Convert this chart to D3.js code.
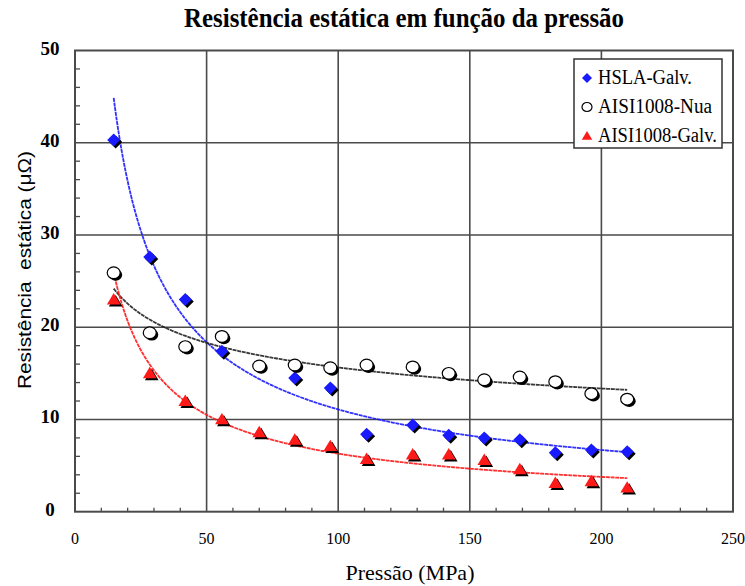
<!DOCTYPE html>
<html>
<head>
<meta charset="utf-8">
<script src="https://cdn.jsdelivr.net/npm/d3@7"></script>
<style>
  html, body { margin: 0; padding: 0; background: #fff; }
  svg { display: block; }
</style>
</head>
<body>
<svg id="chart" width="745" height="586"></svg>
<script>
// Pressure (MPa) at which each contact resistance was measured
const pressao = [14.7, 28.4, 41.9, 55.8, 70.0, 83.5, 97.0, 110.8, 128.3, 142.0, 155.5, 169.0, 182.5, 196.2, 209.8];
// Static resistance (µΩ) per material; null = no measurement
const hslaGalv     = [40.3, 27.6, 23.0, 17.4, null, 14.5, 13.4, 8.4, 9.4, 8.3, 8.0, 7.8, 6.4, 6.7, 6.5];
const aisi1008Nua  = [25.9, 19.4, 17.9, 19.0, 15.8, 15.9, 15.6, 15.9, 15.7, 15.0, 14.3, 14.6, 14.1, 12.8, 12.2];
const aisi1008Galv = [23.0, 15.0, 12.0, 10.0, 8.6, 7.8, 7.1, 5.7, 6.2, 6.2, 5.6, 4.6, 3.1, 3.3, 2.6];

const seriesNames = ["HSLA-Galv.", "AISI1008-Nua", "AISI1008-Galv."];
const xTicks = [0, 50, 100, 150, 200, 250];
const yTicks = [0, 10, 20, 30, 40, 50];

const titulo = "Resistência estática em função da pressão";
const xTitulo = "Pressão (MPa)";
const yTitulo = "Resistência  estática (μΩ)";

const series = [
  { name: seriesNames[0], values: hslaGalv,     color: "#1a1aff", shape: "diamond" },
  { name: seriesNames[1], values: aisi1008Nua,  color: "#000000", shape: "circle" },
  { name: seriesNames[2], values: aisi1008Galv, color: "#ff1a1a", shape: "triangle" }
];

const svg = d3.select("#chart");
const plotLeft = 75, plotRight = 733, plotTop = 50.5, plotBottom = 511.7;

const x = d3.scaleLinear().domain([0, 250]).range([plotLeft, plotRight]);
const y = d3.scaleLinear().domain([0, 50]).range([plotBottom, plotTop]);

const serif = "'Liberation Serif', 'Times New Roman', serif";
const sans = "'Liberation Sans', Arial, sans-serif";
const gridColor = "#4a4a4a";

// Title, centred over the plot area
svg.append("text")
  .attr("x", (plotLeft + plotRight) / 2).attr("y", 27)
  .attr("text-anchor", "middle")
  .attr("textLength", 440).attr("lengthAdjust", "spacingAndGlyphs")
  .attr("font-family", serif).attr("font-weight", "bold").attr("font-size", 28)
  .attr("fill", "#000")
  .text(titulo);

// Grid lines (major ticks)
const g = svg.append("g");
g.selectAll("line.vgrid").data(xTicks.slice(1, -1)).join("line")
  .attr("x1", d => x(d)).attr("x2", d => x(d))
  .attr("y1", plotTop).attr("y2", plotBottom)
  .attr("stroke", gridColor).attr("stroke-width", 1.6);
g.selectAll("line.hgrid").data(yTicks.slice(1, -1)).join("line")
  .attr("x1", plotLeft).attr("x2", plotRight)
  .attr("y1", d => y(d)).attr("y2", d => y(d))
  .attr("stroke", gridColor).attr("stroke-width", 1.6);

// Minor ticks, drawn inward from the bottom and left axes
const xMinor = d3.range(10, 250, 10).filter(v => v % 50 !== 0);
const yMinor = d3.range(2, 50, 2).filter(v => v % 10 !== 0);
g.selectAll("line.xminor").data(xMinor).join("line")
  .attr("x1", d => x(d)).attr("x2", d => x(d))
  .attr("y1", plotBottom).attr("y2", plotBottom - 4)
  .attr("stroke", gridColor).attr("stroke-width", 1.3);
g.selectAll("line.yminor").data(yMinor).join("line")
  .attr("x1", plotLeft).attr("x2", plotLeft + 5)
  .attr("y1", d => y(d)).attr("y2", d => y(d))
  .attr("stroke", gridColor).attr("stroke-width", 1.3);

// Plot frame
svg.append("rect")
  .attr("x", plotLeft).attr("y", plotTop)
  .attr("width", plotRight - plotLeft).attr("height", plotBottom - plotTop)
  .attr("fill", "none").attr("stroke", gridColor).attr("stroke-width", 2);

// Tick labels
svg.selectAll("text.xt").data(xTicks).join("text")
  .attr("x", d => x(d)).attr("y", 544)
  .attr("text-anchor", "middle")
  .attr("font-family", serif).attr("font-size", 16).attr("fill", "#000")
  .text(d => d);
svg.selectAll("text.yt").data(yTicks).join("text")
  .attr("x", 50).attr("y", d => y(d) + 4)
  .attr("text-anchor", "middle")
  .attr("font-family", serif).attr("font-weight", "bold").attr("font-size", 19).attr("fill", "#000")
  .text(d => d);

// Axis titles
svg.append("text")
  .attr("x", 410).attr("y", 580)
  .attr("text-anchor", "middle")
  .attr("font-family", serif).attr("font-size", 22).attr("fill", "#000")
  .text(xTitulo);
svg.append("text")
  .attr("transform", "translate(31,270) rotate(-90)")
  .attr("text-anchor", "middle")
  .attr("textLength", 238).attr("lengthAdjust", "spacingAndGlyphs")
  .style("white-space", "pre")
  .attr("font-family", sans).attr("font-size", 19).attr("fill", "#000")
  .text(yTitulo);

// Power-law trend line (least squares in log-log space) for each series
function powerFit(xs, ys) {
  const pts = xs.map((v, i) => [v, ys[i]]).filter(p => p[1] != null);
  const lx = pts.map(p => Math.log(p[0])), ly = pts.map(p => Math.log(p[1]));
  const mx = d3.mean(lx), my = d3.mean(ly);
  const b = d3.sum(lx, (v, i) => (v - mx) * (ly[i] - my)) / d3.sum(lx, v => (v - mx) * (v - mx));
  const a = Math.exp(my - b * mx);
  return { a, b, x0: d3.min(pts, p => p[0]), x1: d3.max(pts, p => p[0]) };
}

const line = d3.line().x(d => x(d[0])).y(d => y(d[1]));
const curves = svg.append("g");
series.forEach(s => {
  const f = powerFit(pressao, s.values);
  const xs = d3.range(f.x0, f.x1, 0.5).concat([f.x1]);
  curves.append("path")
    .datum(xs.map(v => [v, f.a * Math.pow(v, f.b)]))
    .attr("d", line)
    .attr("fill", "none")
    .attr("stroke", s.color === "#000000" ? "#222" : s.color)
    .attr("stroke-width", 1.8)
    .attr("stroke-dasharray", "4,0.7")
    .attr("opacity", 0.9);
});

// Marker shapes
function markerPath(shape, r) {
  if (shape === "diamond") return `M0,${-r}L${r},0L0,${r}L${-r},0Z`;
  if (shape === "triangle") return `M0,${-r}L${r * 1.05},${r * 0.75}L${-r * 1.05},${r * 0.75}Z`;
  return null;
}

function drawMarker(sel, s, cx, cy, withShadow, r) {
  if (s.shape === "circle") {
    if (withShadow) {
      sel.append("ellipse").attr("cx", cx + 2).attr("cy", cy + 2)
        .attr("rx", r).attr("ry", r * 0.9).attr("fill", "#000");
    }
    sel.append("ellipse").attr("cx", cx).attr("cy", cy)
      .attr("rx", r).attr("ry", r * 0.9)
      .attr("fill", "#fff").attr("stroke", "#000").attr("stroke-width", 1.2);
  } else {
    if (withShadow) {
      sel.append("path").attr("d", markerPath(s.shape, r))
        .attr("transform", `translate(${cx + 2},${cy + 2})`).attr("fill", "#000");
    }
    sel.append("path").attr("d", markerPath(s.shape, r))
      .attr("transform", `translate(${cx},${cy})`).attr("fill", s.color);
  }
}

// Data points with drop shadow
const pts = svg.append("g");
series.forEach(s => {
  s.values.forEach((v, i) => {
    if (v == null) return;
    drawMarker(pts, s, x(pressao[i]), y(v), true, 6.5);
  });
});

// Legend
const leg = svg.append("g");
leg.append("rect")
  .attr("x", 574).attr("y", 59).attr("width", 148).attr("height", 89)
  .attr("fill", "#fff").attr("stroke", "#333").attr("stroke-width", 1.5);
const legendBaselines = [84, 113, 142];
const legendWidths = [94, 114, 119];
series.forEach((s, i) => {
  drawMarker(leg, s, 587, legendBaselines[i] - 6, false, 5);
  leg.append("text")
    .attr("x", 598).attr("y", legendBaselines[i])
    .attr("textLength", legendWidths[i]).attr("lengthAdjust", "spacingAndGlyphs")
    .attr("font-family", serif).attr("font-size", 20).attr("fill", "#000")
    .text(s.name);
});
</script>
</body>
</html>
